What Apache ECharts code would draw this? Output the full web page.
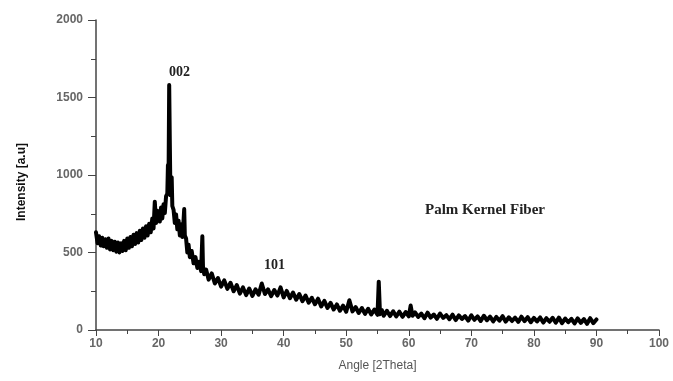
<!DOCTYPE html>
<html><head><meta charset="utf-8">
<script src="https://cdn.jsdelivr.net/npm/echarts@6/dist/echarts.min.js"></script>
<style>html,body{margin:0;padding:0;background:#fff}#c{width:673px;height:381px}</style>
</head><body><div id="c"></div>
<script>
const angles = [10.0,10.25,10.5,10.75,11.0,11.25,11.5,11.75,12.0,12.25,12.5,12.75,13.0,13.25,13.5,13.75,14.0,14.25,14.5,14.75,15.0,15.25,15.5,15.75,16.0,16.25,16.5,16.75,17.0,17.25,17.5,17.75,18.0,18.25,18.5,18.75,19.0,19.2,19.4,19.6,19.8,20.0,20.2,20.4,20.6,20.8,21.0,21.2,21.4,21.5,21.6,21.7,21.8,21.9,22.0,22.1,22.2,22.4,22.6,22.8,23.0,23.2,23.4,23.6,23.8,24.0,24.1,24.2,24.4,24.6,24.8,25.0,25.3,25.6,25.9,26.2,26.5,26.8,27.0,27.1,27.3,27.6,28.0,28.5,29.0,29.5,30.0,30.5,31.0,31.5,32.0,32.5,33.0,33.5,34.0,34.5,35.0,35.5,36.0,36.5,37.0,37.5,38.0,38.5,39.0,39.5,40.0,40.5,41.0,41.5,42.0,42.5,43.0,43.5,44.0,44.5,45.0,45.5,46.0,46.5,47.0,47.5,48.0,48.5,49.0,49.5,50.0,50.5,51.0,51.5,52.0,52.5,53.0,53.5,54.0,54.5,55.0,55.2,55.4,55.7,56.0,56.5,57.0,57.5,58.0,58.5,59.0,59.5,60.0,60.3,60.6,61.0,61.5,62.0,62.5,63.0,63.5,64.0,64.5,65.0,65.5,66.0,66.5,67.0,67.5,68.0,68.5,69.0,69.5,70.0,70.5,71.0,71.5,72.0,72.5,73.0,73.5,74.0,74.5,75.0,75.5,76.0,76.5,77.0,77.5,78.0,78.5,79.0,79.5,80.0,80.5,81.0,81.5,82.0,82.5,83.0,83.5,84.0,84.5,85.0,85.5,86.0,86.5,87.0,87.5,88.0,88.5,89.0,89.5,90.0];
const intensity = [630,560,605,545,595,540,585,530,590,520,575,515,570,505,565,500,560,510,575,515,590,530,600,540,615,555,625,565,640,580,655,595,670,610,685,630,720,655,828,690,770,735,700,790,720,812,755,862,880,1065,990,1580,1210,870,965,985,800,775,690,745,650,705,610,680,600,710,780,610,590,500,550,470,510,430,470,400,440,380,605,410,360,390,325,365,300,335,280,320,265,305,250,290,235,275,225,268,220,262,228,300,232,262,218,258,222,275,210,252,205,242,195,232,186,222,176,208,166,202,152,188,142,175,132,165,124,157,118,192,120,148,110,142,104,137,100,132,98,312,102,128,92,124,90,121,87,118,85,116,88,158,92,114,84,106,76,112,80,100,72,106,78,96,70,99,64,94,71,90,60,95,66,88,58,92,63,86,55,84,60,89,54,82,58,80,52,86,57,83,50,78,55,81,48,76,53,79,47,80,44,74,50,72,42,75,46,70,40,76,44,68,38,66,41,55];
const xTicks = [10,20,30,40,50,60,70,80,90,100];
const yTicks = [0,500,1000,1500,2000];
const peakLabels = ['002','101'];
const sampleName = 'Palm Kernel Fiber';

const chart = echarts.init(document.getElementById('c'));
const axisCol = '#444';
const lblStyle = {color:'#666', fontFamily:'Liberation Sans, Arial', fontWeight:'bold', fontSize:12};
chart.setOption({
  animation:false,
  grid:{left:96, right:14, top:20, bottom:51},
  xAxis:{type:'value', min:xTicks[0], max:xTicks[xTicks.length-1], interval:10,
    name:'Angle [2Theta]', nameLocation:'middle', nameGap:30,
    nameTextStyle:{color:'#555', fontFamily:'Liberation Sans, Arial', fontSize:12},
    axisLine:{show:true, lineStyle:{color:axisCol, width:1.5}},
    axisTick:{show:true, inside:false, length:6, lineStyle:{color:axisCol}},
    minorTick:{show:true, splitNumber:2, length:4, lineStyle:{color:axisCol}},
    axisLabel:Object.assign({margin:8, formatter:v=>String(v)}, lblStyle),
    splitLine:{show:false}},
  yAxis:{type:'value', min:yTicks[0], max:yTicks[yTicks.length-1], interval:500,
    name:'Intensity [a.u]', nameLocation:'middle', nameGap:68, nameRotate:90,
    nameTextStyle:{color:'#111', fontFamily:'Liberation Sans, Arial', fontWeight:'bold', fontSize:12, padding:[0,14,0,0]},
    axisLine:{show:true, lineStyle:{color:axisCol, width:1.5}},
    axisTick:{show:true, inside:false, length:8, lineStyle:{color:axisCol}},
    minorTick:{show:true, splitNumber:2, length:5, lineStyle:{color:axisCol}},
    axisLabel:Object.assign({margin:13, formatter:v=>String(v)}, lblStyle),
    splitLine:{show:false}},
  series:[{type:'line', showSymbol:false, symbol:'none',
    data:angles.map((a,i)=>[a,intensity[i]]),
    lineStyle:{color:'#000', width:4, join:'round', cap:'round'}, z:3}],
  graphic:[
    {type:'text', left:169, top:65, style:{text:peakLabels[0], font:'bold 14px "Liberation Serif", serif', fill:'#222'}},
    {type:'text', left:264, top:258, style:{text:peakLabels[1], font:'bold 14px "Liberation Serif", serif', fill:'#222'}},
    {type:'text', left:425, top:203, style:{text:sampleName, font:'bold 15px "Liberation Serif", serif', fill:'#222'}}
  ]
});
</script></body></html>
